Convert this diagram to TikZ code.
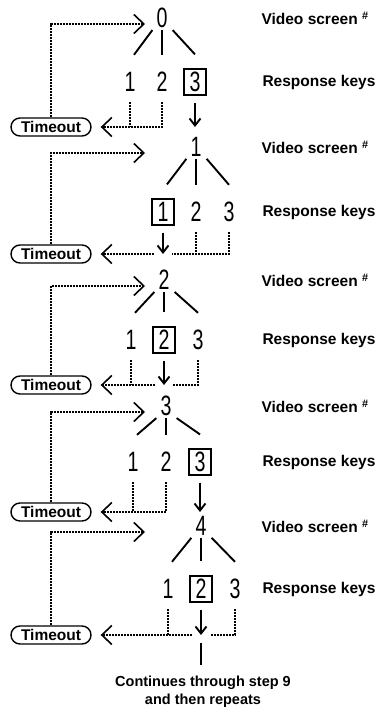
\documentclass[tikz,border=0pt]{standalone}
\usepackage{fontspec}
\setmainfont{Liberation Sans}
\newfontfamily\digitfont[FakeStretch=0.7]{Liberation Sans}
\usetikzlibrary{arrows.meta,shapes.misc,calc}

\begin{document}
\begin{tikzpicture}[x=1pt,y=-1pt,
  num/.style={font=\digitfont\fontsize{28}{28}\selectfont,inner sep=1pt},
  key/.style={num,minimum width=22pt,minimum height=26pt,inner sep=0pt},
  chosen/.style={key,draw,line width=1.2pt},
  timeout/.style={draw,rounded rectangle,line width=1.4pt,minimum width=82pt,
    minimum height=18pt,inner sep=1pt,font=\bfseries\fontsize{15.5}{15.5}\selectfont},
  lbl/.style={anchor=west,font=\bfseries\fontsize{15.5}{15.5}\selectfont},
  branch/.style={line width=1.9pt},
  dline/.style={line width=1.3pt,dash pattern=on 2pt off 1pt},
  drop/.style={dline,shorten <=7pt},
  back/.style={-{Straight Barb[length=10pt,width=19pt,line width=1.6pt]}},
  down/.style={line width=1.9pt,shorten <=7pt,-{Straight Barb[length=7pt,width=11pt]}}]

  \useasboundingbox (0,0) rectangle (380,714);

  % stage 0
  \node[num] (s0) at (162,18) {0};
  \node[key] (k01) at (130,82) {1};
  \node[key] (k02) at (162,82) {2};
  \node[chosen] (k03) at (195,82) {3};
  \node[timeout] (t0) at (51,127) {Timeout};
  \coordinate (f0) at (145,24);

  % stage 1
  \node[num] (s1) at (196,147) {1};
  \node[chosen] (k11) at (163,212) {1};
  \node[key] (k12) at (196,212) {2};
  \node[key] (k13) at (229,212) {3};
  \node[timeout] (t1) at (51,254) {Timeout};
  \coordinate (f1) at (145,153);

  % stage 2
  \node[num] (s2) at (164,280) {2};
  \node[key] (k21) at (131,340) {1};
  \node[chosen] (k22) at (164,340) {2};
  \node[key] (k23) at (198,340) {3};
  \node[timeout] (t2) at (51,385) {Timeout};
  \coordinate (f2) at (145,286);

  % stage 3
  \node[num] (s3) at (166,406) {3};
  \node[key] (k31) at (133,462) {1};
  \node[key] (k32) at (166,462) {2};
  \node[chosen] (k33) at (200,462) {3};
  \node[timeout] (t3) at (51,512) {Timeout};
  \coordinate (f3) at (145,412);

  % stage 4
  \node[num] (s4) at (201,526) {4};
  \node[key] (k41) at (168,589) {1};
  \node[chosen] (k42) at (201,589) {2};
  \node[key] (k43) at (235,589) {3};
  \node[timeout] (t4) at (51,635) {Timeout};
  \coordinate (f4) at (145,532);

  \node[align=center,font=\bfseries\fontsize{14.5}{18}\selectfont] (cont) at (203,692)
    {Continues through step 9\\and then repeats};

  \node[lbl] (v0) at (258,18) {Video screen \textsuperscript{\#}};
  \node[lbl] (r0) at (259,82) {Response keys};
  \node[lbl] (v1) at (258,147) {Video screen \textsuperscript{\#}};
  \node[lbl] (r1) at (259,212) {Response keys};
  \node[lbl] (v2) at (258,280) {Video screen \textsuperscript{\#}};
  \node[lbl] (r2) at (259,340) {Response keys};
  \node[lbl] (v3) at (258,406) {Video screen \textsuperscript{\#}};
  \node[lbl] (r3) at (259,462) {Response keys};
  \node[lbl] (v4) at (258,526) {Video screen \textsuperscript{\#}};
  \node[lbl] (r4) at (259,589) {Response keys};

  % branches
  \draw[branch] ([xshift=-3pt,yshift=-1pt]s0.south west) -- ([xshift=4pt,yshift=14pt]k01.north);
  \draw[branch] ([yshift=-1pt]s0.south) -- ([yshift=14pt]k02.north);
  \draw[branch] ([xshift=4pt,yshift=-1pt]s0.south east) -- ([yshift=14pt]k03.north);
  \draw[branch] ([xshift=-3pt,yshift=-1pt]s1.south west) -- ([xshift=4pt,yshift=14pt]k11.north);
  \draw[branch] ([yshift=-1pt]s1.south) -- ([yshift=14pt]k12.north);
  \draw[branch] ([xshift=4pt,yshift=-1pt]s1.south east) -- ([yshift=14pt]k13.north);
  \draw[branch] ([xshift=-3pt,yshift=-1pt]s2.south west) -- ([xshift=4pt,yshift=14pt]k21.north);
  \draw[branch] ([yshift=-1pt]s2.south) -- ([yshift=14pt]k22.north);
  \draw[branch] ([xshift=4pt,yshift=-1pt]s2.south east) -- ([yshift=14pt]k23.north);
  \draw[branch] ([xshift=-3pt,yshift=-1pt]s3.south west) -- ([xshift=4pt,yshift=14pt]k31.north);
  \draw[branch] ([yshift=-1pt]s3.south) -- ([yshift=14pt]k32.north);
  \draw[branch] ([xshift=4pt,yshift=-1pt]s3.south east) -- ([yshift=14pt]k33.north);
  \draw[branch] ([xshift=-3pt,yshift=-1pt]s4.south west) -- ([xshift=4pt,yshift=14pt]k41.north);
  \draw[branch] ([yshift=-1pt]s4.south) -- ([yshift=14pt]k42.north);
  \draw[branch] ([xshift=4pt,yshift=-1pt]s4.south east) -- ([yshift=14pt]k43.north);

  % chosen key leads on
  \draw[down] (k03) -- (k03 |- t0);
  \draw[down] (k11) -- (k11 |- t1);
  \draw[down] (k22) -- (k22 |- t2);
  \draw[down] (k33) -- (k33 |- t3);
  \draw[down] (k42) -- (k42 |- t4);
  \draw[line width=1.9pt] ($(k42 |- t4)+(0,8)$) -- ($(k42 |- cont.north)+(0,-8)$);

  % no answer
  \draw[drop] (k01) -- (k01 |- t0);
  \draw[drop,back] (k02) |- ($(t0.east)+(9,0)$);
  \draw[drop] (k13) |- ($(k11 |- t1)+(9,0)$);
  \draw[drop] (k12) -- (k12 |- t1);
  \draw[dline,back] ($(k11 |- t1)+(-9,0)$) -- ($(t1.east)+(9,0)$);
  \draw[drop] (k23) |- ($(k22 |- t2)+(9,0)$);
  \draw[drop] (k21) -- (k21 |- t2);
  \draw[dline,back] ($(k22 |- t2)+(-9,0)$) -- ($(t2.east)+(9,0)$);
  \draw[drop] (k31) -- (k31 |- t3);
  \draw[drop,back] (k32) |- ($(t3.east)+(9,0)$);
  \draw[drop] (k43) |- ($(k42 |- t4)+(9,0)$);
  \draw[drop] (k41) -- (k41 |- t4);
  \draw[dline,back] ($(k42 |- t4)+(-9,0)$) -- ($(t4.east)+(9,0)$);

  % timeout repeats the screen
  \draw[dline,back] (t0) |- (f0);
  \draw[dline,back] (t1) |- (f1);
  \draw[dline,back] (t2) |- (f2);
  \draw[dline,back] (t3) |- (f3);
  \draw[dline,back] (t4) |- (f4);

\end{tikzpicture}
\end{document}
